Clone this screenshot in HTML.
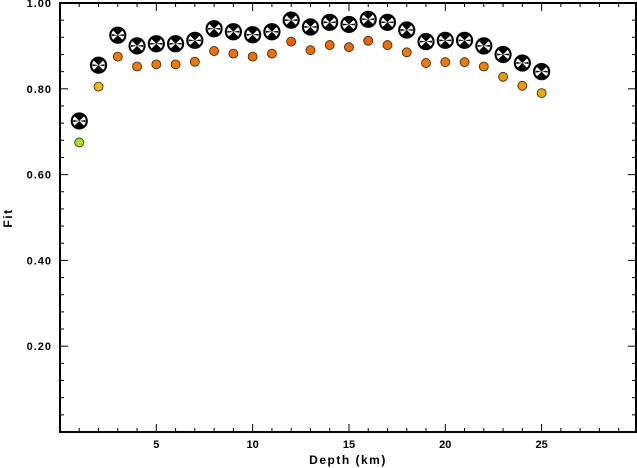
<!DOCTYPE html>
<html><head><meta charset="utf-8"><style>
body{margin:0;background:#fff;}
svg{display:block;font-family:"Liberation Sans",Arial,sans-serif;}
</style></head><body>
<svg id="chart" width="637" height="468" viewBox="0 0 637 468"></svg>
<script>
const depths=[1,2,3,4,5,6,7,8,9,10,11,12,13,14,15,16,17,18,19,20,21,22,23,24,25];
const fitBall=[0.725,0.855,0.925,0.90,0.905,0.905,0.913,0.94,0.933,0.926,0.933,0.96,0.944,0.955,0.95,0.962,0.955,0.937,0.91,0.913,0.913,0.90,0.88,0.86,0.84];
const fitDot=[0.675,0.805,0.875,0.852,0.857,0.857,0.863,0.888,0.882,0.875,0.882,0.91,0.89,0.902,0.897,0.912,0.902,0.885,0.86,0.862,0.862,0.852,0.828,0.807,0.79];
const dotColors=["#a8e020","#f8b800","#f07a00","#f07a00","#f07a00","#f07a00","#f07a00","#f07000","#f07000","#f07000","#f07000","#f06000","#f06a00","#f06a00","#f06a00","#f06000","#f06a00","#f07a00","#f07a00","#f07a00","#f07a00","#f08000","#f09800","#f09800","#f0a800"];
const xTicks=[5,10,15,20,25];
const yTicks=[0.2,0.4,0.6,0.8,1.0];
const L=60,R=636,T=3,B=432,XMIN=0,XMAX=29.9,YMIN=0,YMAX=1;
const x=v=>L+(v-XMIN)/(XMAX-XMIN)*(R-L);
const y=v=>B-(v-YMIN)/(YMAX-YMIN)*(B-T);
const svg=document.getElementById('chart');
const NS="http://www.w3.org/2000/svg";
function mk(tag,attrs,parent){const e=document.createElementNS(NS,tag);for(const k in attrs)e.setAttribute(k,attrs[k]);(parent||svg).appendChild(e);return e;}
const frame=mk('rect',{x:L,y:T,width:R-L,height:B-T,fill:'none',stroke:'#000','stroke-width':2});


// x ticks
for(let v=1;v<=29;v++){const major=v%5===0;const len=major?8:4;
 const t1=mk('line',{x1:x(v),x2:x(v),y1:B,y2:B-len,stroke:'#000','stroke-width':1});
 
 
 const t2=mk('line',{x1:x(v),x2:x(v),y1:T,y2:T+len,stroke:'#000','stroke-width':1});
 
 }
xTicks.forEach(v=>{const t=mk('text',{x:x(v),y:B+16,'text-anchor':'middle','font-size':11,'font-weight':'bold'});t.textContent=v;
 
 });
for(let i=1;i<25;i++){const v=i*0.04;const major=i%5===0;const len=major?8:4;
 const t1=mk('line',{x1:L,x2:L+len,y1:y(v),y2:y(v),stroke:'#000','stroke-width':1});
 
 
 const t2=mk('line',{x1:R,x2:R-len,y1:y(v),y2:y(v),stroke:'#000','stroke-width':1});
 
 }
yTicks.forEach(v=>{const t=mk('text',{x:L-8,y:y(v)+4,'text-anchor':'end','font-size':11,'font-weight':'bold','letter-spacing':1});t.textContent=v.toFixed(2);
 
 });
const xt=mk('text',{x:348,y:464,'text-anchor':'middle','font-size':12,'font-weight':'bold','letter-spacing':1.5});xt.textContent='Depth (km)';


const yt=mk('text',{x:12,y:218,'text-anchor':'middle','font-size':12,'font-weight':'bold','letter-spacing':1.5,transform:'rotate(-90 12 218)'});yt.textContent='Fit';


depths.forEach((d,i)=>{
 const c=mk('circle',{cx:x(d),cy:y(fitDot[i]),r:4.5,fill:dotColors[i],stroke:'#222','stroke-width':0.8});
 
 
 const cx=x(d),cy=y(fitBall[i]),r=8;
 const g=mk('g',{});
 
 
 mk('circle',{cx,cy,r,fill:'#000',stroke:'#000','stroke-width':1.2},g);
 mk('circle',{cx,cy,r:r-1.5,fill:'#fff'},g);
 mk('path',{d:`M${cx},${cy} L${cx-5},${cy-5} A7 7 0 0 1 ${cx+5},${cy-5} Z M${cx},${cy} L${cx-5},${cy+5} A7 7 0 0 0 ${cx+5},${cy+5} Z M${cx},${cy} L${cx-6},${cy-1} A7 7 0 0 0 ${cx-6},${cy+1}Z M${cx},${cy} L${cx+6},${cy-1} A7 7 0 0 1 ${cx+6},${cy+1}Z`,fill:'#000'},g);
});
</script>
</body></html>
